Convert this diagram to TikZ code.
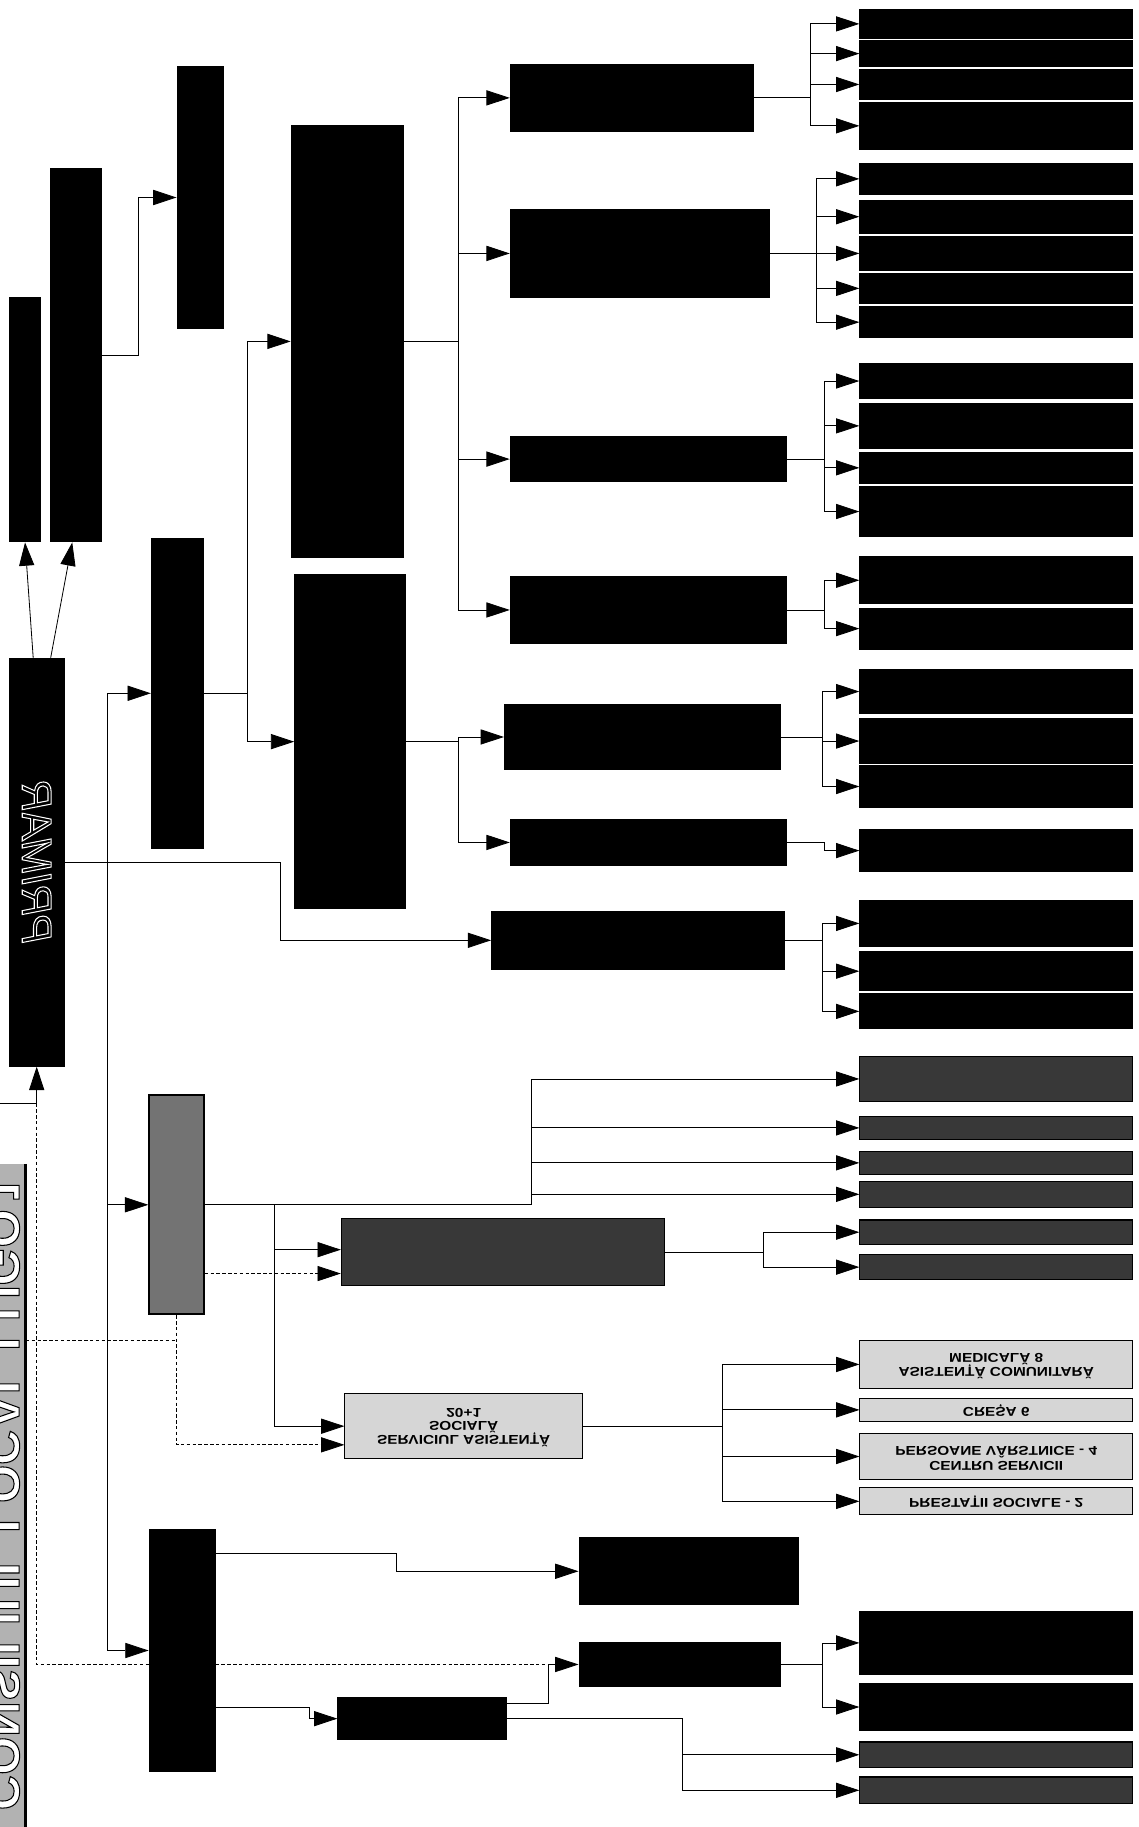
\documentclass[tikz,border=0pt]{standalone}
\usepackage{fontspec}
\setsansfont{Liberation Sans}
\newfontfamily\boxfont{Liberation Sans}[FakeStretch=1.2]
\usepackage{graphicx}
\usetikzlibrary{arrows.meta}
\newcommand{\flipv}[1]{\scalebox{1}[-1]{\renewcommand{\arraystretch}{0.85}\begin{tabular}{@{}c@{}}#1\end{tabular}}}
\newcommand{\flipside}[1]{\scalebox{1}[-1]{\rotatebox{-90}{#1}}}
\newcommand{\outlinetext}[3]{\special{pdf:literal direct #1 RG #2 Tr 0.9 w}#3\special{pdf:literal direct 0 Tr 0.4 w}}

\begin{document}
\begin{tikzpicture}[x=1pt,y=-1pt,
    blk/.style={draw=black,fill=black,line width=1pt,inner sep=0pt},
    dgr/.style={draw=black,fill=black!78,line width=1pt,inner sep=0pt},
    mgr/.style={draw=black,fill=black!55,line width=1.5pt,inner sep=0pt},
    lgr/.style={draw=black,fill=black!16,line width=0.8pt,inner sep=0pt,
        font=\boxfont\bfseries\fontsize{11}{11.5}\selectfont},
    bx/.style 2 args={minimum width=#1pt,minimum height=#2pt},
    arr/.style={-{Triangle[length=20pt,width=13pt]},line width=0.7pt},
    dsh/.style={dash pattern=on 3pt off 2pt,line width=0.7pt}]
    \useasboundingbox (0,0) rectangle (977,1568);

    % Consiliul local si primar
    \node[fill=black!30,inner sep=0pt,bx={40}{570}] (ttl) at (2,1284)
        {\color{white}\sffamily\bfseries\fontsize{42}{42}\selectfont
         \outlinetext{0 0 0}{2}{\flipside{CONSILIUL LOCAL LUGOJ}}};
    \draw[line width=2.5pt] (ttl.north east) -- (ttl.south east);
    \node[blk,bx={47}{350}] (primar) at (31.5,740)
        {\color{black}\sffamily\itshape\fontsize{36}{36}\selectfont
         \outlinetext{1 1 1}{1}{\flipside{PRIMAR}}};

    % Conducere
    \node[blk,bx={27}{210}] (a1) at (21.5,360) {};
    \node[blk,bx={44}{320}] (a2) at (65,305) {};
    \node[blk,bx={40}{225}] (a3) at (172,169.5) {};
    \node[blk,bx={45}{266}] (b) at (152.5,595) {};
    \node[mgr,bx={47}{188}] (c) at (151.5,1034) {};
    \node[blk,bx={57}{207}] (e) at (156.5,1416.5) {};

    % Directii
    \node[blk,bx={96}{370}] (d1) at (298,293) {};
    \node[blk,bx={95}{287}] (d2) at (300.5,636.5) {};

    % Servicii
    \node[blk,bx={209}{58}] (f1) at (542.5,84) {};
    \node[blk,bx={222}{75}] (f2) at (549,217.5) {};
    \node[blk,bx={237}{38}] (f3) at (556.5,394) {};
    \node[blk,bx={237}{57}] (f4) at (556.5,523.5) {};
    \node[blk,bx={237}{55}] (f5) at (551.5,632.5) {};
    \node[blk,bx={237}{40}] (f6) at (556.5,723) {};
    \node[blk,bx={251}{50}] (f7) at (547.5,807) {};
    \node[dgr,bx={277}{57}] (h5) at (431.5,1074.5) {};
    \node[lgr,bx={204}{56}] (s) at (398,1224)
        {\flipv{SERVICIUL ASISTENȚĂ\\SOCIALĂ\\20+1}};
    \node[blk,bx={188}{57}] (k1) at (591,1348.5) {};
    \node[blk,bx={173}{37}] (k2) at (583.5,1428.5) {};
    \node[blk,bx={145}{36}] (k3) at (362.5,1475) {};

    % Compartimente
    \foreach \n/\y/\h in {g11/20.5/25, g12/46/22, g13/72.5/25, g14/108/40,
        g21/153.5/27, g22/186/28, g23/217.5/29, g24/247.5/25, g25/276.5/27,
        g31/327/30, g32/365.5/39, g33/401.5/27, g34/439/42,
        g41/498/40, g42/539.5/35, g51/593.5/37, g52/636/38, g53/675/36,
        g61/730/36, g71/792.5/39, g72/833.5/33, g73/868/30,
        m1/1410/54, m2/1465/40}
        \node[blk,bx={234}{\h}] (\n) at (855,\y) {};
    \foreach \n/\y/\h in {h1/926/38, h2/968/20, h3/998/20, h4/1025/22,
        h6/1057.5/21, h7/1087.5/21, m3/1506/22, m4/1536.5/23}
        \node[dgr,bx={234}{\h}] (\n) at (855,\y) {};
    \node[lgr,bx={234}{42}] (l1) at (855,1171) {\flipv{ASISTENȚĂ COMUNITARĂ\\MEDICALĂ 8}};
    \node[lgr,bx={234}{20}] (l2) at (855,1210) {\flipv{CREȘA 6}};
    \node[lgr,bx={234}{40}] (l3) at (855,1250) {\flipv{CENTRU SERVICII\\PERSOANE VÂRSTNICE - 4}};
    \node[lgr,bx={234}{23}] (l4) at (855,1288.5) {\flipv{PRESTAȚII SOCIALE - 2}};

    % Legaturi
    \coordinate (cl) at (0,947);
    \coordinate (vt) at (92,595);
    \draw[arr] (cl) -| (primar.south);
    \draw[arr] ([xshift=-3pt]primar.north) -- (a1.south);
    \draw[arr] ([xshift=12pt]primar.north) -- ([xshift=-3pt]a2.south);
    \draw[arr] (a2.east) -- ++(31,0) |- (a3.west);
    \draw (vt) -- (vt |- e.west);
    \draw[arr] (vt) -- (b.west);
    \draw[arr] (vt |- c.west) -- (c.west);
    \draw[arr] (vt |- e.west) -- (e.west);
    \draw[arr] (b.east) -- ++(37,0) |- (d1.west);
    \draw[arr] (b.east) -- ++(37,0) |- (d2.west);
    \foreach \n in {f1,f2,f3,f4}
        \draw[arr] (d1.east) -- ++(47,0) |- (\n.west);
    \foreach \n in {f5,f6}
        \draw[arr] (d2.east) -- ++(45,0) |- (\n.west);
    \draw[arr] (primar.east) -- ++(185,0) |- (f7.west);
    \foreach \n in {g11,g12,g13,g14}
        \draw[arr] (f1.east) -- ++(48,0) |- (\n.west);
    \foreach \n in {g21,g22,g23,g24,g25}
        \draw[arr] (f2.east) -- ++(40,0) |- (\n.west);
    \foreach \n in {g31,g32,g33,g34}
        \draw[arr] (f3.east) -- ++(32,0) |- (\n.west);
    \foreach \n in {g41,g42}
        \draw[arr] (f4.east) -- ++(32,0) |- (\n.west);
    \foreach \n in {g51,g52,g53}
        \draw[arr] (f5.east) -- ++(35,0) |- (\n.west);
    \draw[arr] (f6.east) -- ++(32,0) |- (g61.west);
    \foreach \n in {g71,g72,g73}
        \draw[arr] (f7.east) -- ++(32,0) |- (\n.west);

    % Asistenta sociala
    \foreach \n in {h1,h2,h3,h4}
        \draw[arr] (c.east) -- ++(280,0) |- (\n.west);
    \draw[arr] (c.east) -- ++(60,0) |- ([yshift=2pt]h5.west);
    \draw[arr] (c.east) -- ++(60,0) |- (s.west);
    \draw[dsh,arr] ([yshift=-59pt]c.east) -- ([yshift=-18.5pt]h5.west);
    \foreach \n in {h6,h7}
        \draw[arr] (h5.east) -- ++(85,0) |- (\n.west);
    \foreach \n in {l1,l2,l3,l4}
        \draw[arr] (s.east) -- ++(120,0) |- (\n.west);
    \path (c.south) ++(0,22) coordinate (cs);
    \draw[dsh] (ttl.north east |- cs) -- (cs);
    \draw[dsh,arr] (c.south) |- ([yshift=-16pt]s.west);

    % Partea de jos
    \draw[dsh] (cl -| primar.south) |- ([xshift=-27pt]k2.west);
    \draw[arr] ([yshift=83.5pt]e.east) -- ++(155,0) |- (k1.west);
    \draw[arr] ([yshift=-48.5pt]e.east) -- ++(80,0) |- (k3.west);
    \draw[arr] ([yshift=13pt]k3.east) -- ++(35,0) |- (k2.west);
    \foreach \n in {m1,m2}
        \draw[arr] (k2.east) -- ++(35,0) |- (\n.west);
    \foreach \n in {m3,m4}
        \draw[arr] (k3.east) -- ++(150,0) |- (\n.west);
\end{tikzpicture}
\end{document}
